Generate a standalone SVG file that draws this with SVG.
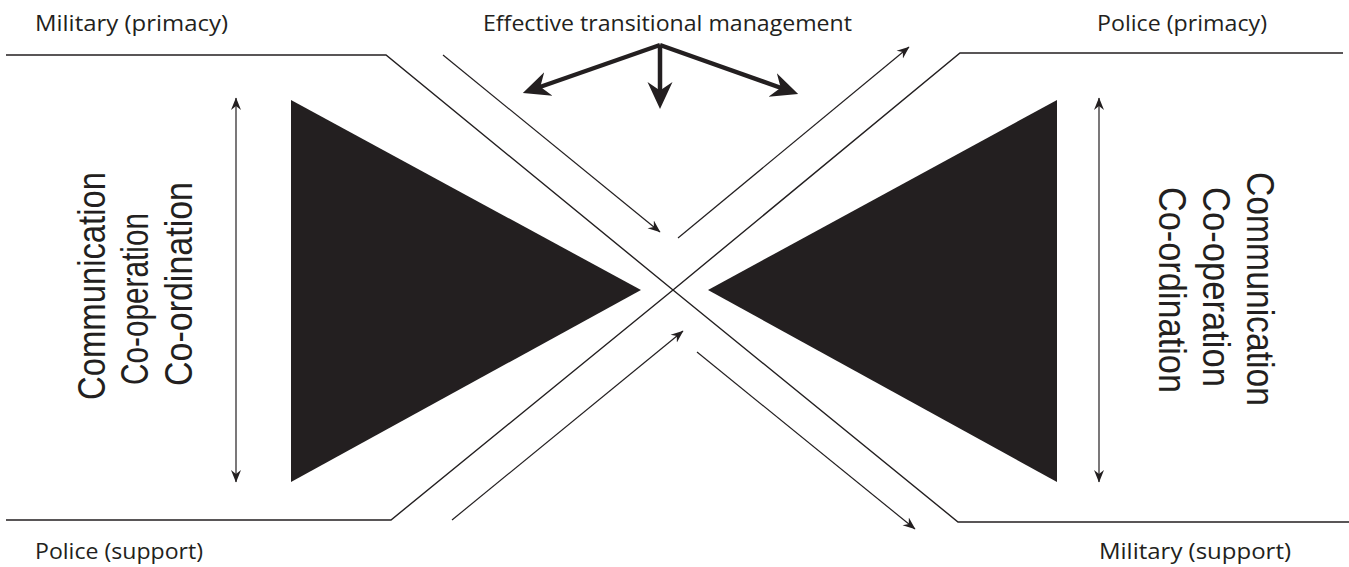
<svg xmlns="http://www.w3.org/2000/svg" width="1349" height="567" viewBox="0 0 1349 567">
  <style>
    .lbl { font-family: "Open Sans", "Noto Sans", "Liberation Sans", sans-serif; font-size: 22px; fill: #231f20; }
    .vt { font-family: "Liberation Sans", Arial, sans-serif; font-size: 38px; fill: #231f20; text-anchor: middle; }
    .ln { fill: none; stroke: #231f20; stroke-width: 1.4; }
    .thin { fill: none; stroke: #231f20; stroke-width: 1.2; }
    .thick { fill: none; stroke: #231f20; stroke-width: 4.5; }
    .tri { fill: #231f20; }
  </style>
  <defs>
    <marker id="ah" markerUnits="userSpaceOnUse" markerWidth="13" markerHeight="11" refX="12" refY="5.5" orient="auto-start-reverse" viewBox="0 0 13 11">
      <path d="M12.5,5.5 L0,0.5 L4,5.5 L0,10.5 Z" fill="#231f20"/>
    </marker>
    <marker id="big" markerUnits="userSpaceOnUse" markerWidth="28" markerHeight="28" refX="12" refY="14" orient="auto" viewBox="0 0 28 28">
      <path d="M27,14 L0,1.5 L8.5,14 L0,26.5 Z" fill="#231f20"/>
    </marker>
  </defs>

  <g id="connectors">
    <polyline class="ln" points="6,55 386,55 673,290 958,522 1349,522"/>
    <polyline class="ln" points="6,520 391,520 673,290 960,53 1343,53"/>
    <line class="thin" x1="443" y1="55" x2="660" y2="232" marker-end="url(#ah)"/>
    <line class="thin" x1="678" y1="238" x2="909" y2="47" marker-end="url(#ah)"/>
    <line class="thin" x1="452" y1="520" x2="683" y2="331" marker-end="url(#ah)"/>
    <line class="thin" x1="697" y1="352" x2="915" y2="529" marker-end="url(#ah)"/>
    <line class="thin" x1="236" y1="98" x2="236" y2="482" marker-start="url(#ah)" marker-end="url(#ah)"/>
    <line class="thin" x1="1099" y1="98" x2="1099" y2="482" marker-start="url(#ah)" marker-end="url(#ah)"/>
    <line class="thick" x1="660" y1="45" x2="537" y2="88" marker-end="url(#big)"/>
    <line class="thick" x1="660" y1="45" x2="660" y2="94" marker-end="url(#big)"/>
    <line class="thick" x1="660" y1="45" x2="784" y2="89" marker-end="url(#big)"/>
  </g>

  <g id="left-triangle">
    <polygon class="tri" points="291,100 291,482 641,290"/>
  </g>
  <g id="right-triangle">
    <polygon class="tri" points="1057,100 1057,482 708,290"/>
  </g>

  <g id="label-military-primacy">
    <text class="lbl" x="35" y="31" textLength="193" lengthAdjust="spacingAndGlyphs">Military (primacy)</text>
  </g>
  <g id="label-effective">
    <text class="lbl" x="483" y="31" textLength="369" lengthAdjust="spacingAndGlyphs">Effective transitional management</text>
  </g>
  <g id="label-police-primacy">
    <text class="lbl" x="1097" y="31" textLength="170" lengthAdjust="spacingAndGlyphs">Police (primacy)</text>
  </g>
  <g id="label-police-support">
    <text class="lbl" x="35" y="559" textLength="168" lengthAdjust="spacingAndGlyphs">Police (support)</text>
  </g>
  <g id="label-military-support">
    <text class="lbl" x="1099" y="559" textLength="192" lengthAdjust="spacingAndGlyphs">Military (support)</text>
  </g>

  <g id="left-text">
    <text class="vt" transform="translate(105,286) rotate(-90)" textLength="228" lengthAdjust="spacingAndGlyphs">Communication</text>
    <text class="vt" transform="translate(148,299) rotate(-90)" textLength="172" lengthAdjust="spacingAndGlyphs">Co-operation</text>
    <text class="vt" transform="translate(192,284) rotate(-90)" textLength="204" lengthAdjust="spacingAndGlyphs">Co-ordination</text>
  </g>
  <g id="right-text">
    <text class="vt" transform="translate(1247,289) rotate(90)" textLength="234" lengthAdjust="spacingAndGlyphs">Communication</text>
    <text class="vt" transform="translate(1203,287) rotate(90)" textLength="200" lengthAdjust="spacingAndGlyphs">Co-operation</text>
    <text class="vt" transform="translate(1159,290) rotate(90)" textLength="206" lengthAdjust="spacingAndGlyphs">Co-ordination</text>
  </g>
</svg>
